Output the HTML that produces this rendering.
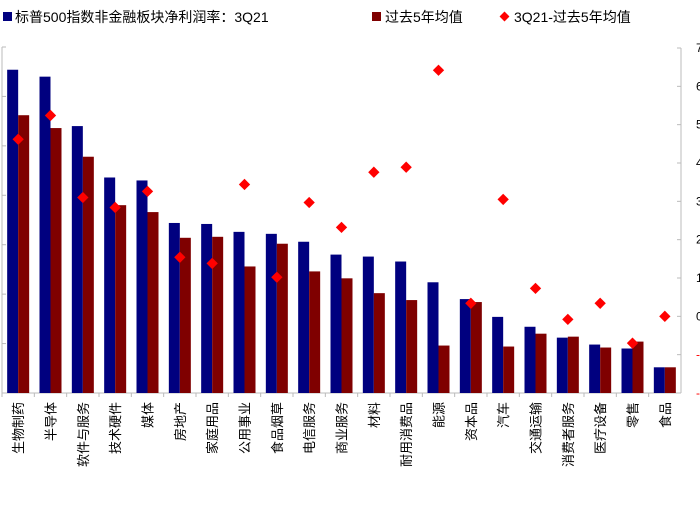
<!DOCTYPE html>
<html><head><meta charset="utf-8"><style>
body{margin:0;background:#fff;width:700px;height:500px;overflow:hidden}
svg{font-family:"Liberation Sans","Noto Sans CJK SC",sans-serif}
</style></head><body>
<svg id="c" width="700" height="500">
<g>
<rect x="3" y="12" width="9" height="9" fill="#00007f"/>
<text x="15" y="22" font-size="14" fill="#000">标普500指数非金融板块净利润率：3Q21</text>
<rect x="372" y="12" width="9" height="9" fill="#7f0000"/>
<text x="385" y="22" font-size="14" fill="#000">过去5年均值</text>
<rect x="501" y="13" width="7" height="7" fill="#ff0000" transform="rotate(45 504.5 16.5)"/>
<text x="514" y="22" font-size="14" fill="#000">3Q21-过去5年均值</text>
</g>
<g id="plot"></g>
</svg>
<script>
const categories=["生物制药","半导体","软件与服务","技术硬件","媒体","房地产","家庭用品","公用事业","食品烟草","电信服务","商业服务","材料","耐用消费品","能源","资本品","汽车","交通运输","消费者服务","医疗设备","零售","食品"];
const current=[32.7,32.0,27.0,21.8,21.5,17.2,17.1,16.3,16.1,15.3,14.0,13.8,13.3,11.2,9.5,7.7,6.7,5.6,4.9,4.5,2.6];
const avg5y=[28.1,26.8,23.9,19.0,18.3,15.7,15.8,12.8,15.1,12.3,11.6,10.1,9.4,4.8,9.2,4.7,6.0,5.7,4.6,5.2,2.6];
const diff=[4.62,5.24,3.10,2.84,3.26,1.54,1.38,3.44,1.02,2.97,2.32,3.76,3.89,6.42,0.34,3.05,0.73,-0.08,0.34,-0.70,0.0];
const rightTicks=[-2,-1,0,1,2,3,4,5,6,7];
const leftTicks=[0,5,10,15,20,25,30,35];

const NS="http://www.w3.org/2000/svg";
const g=document.getElementById('plot');
const X0=2,X1=681,YB=393,YT=47;
const slot=(X1-X0)/categories.length;
const yL=v=>YB-(v/35)*(YB-YT);
const yR=v=>393-(v+2)/9*(393-48);
function el(t,a){const e=document.createElementNS(NS,t);for(const k in a)e.setAttribute(k,a[k]);g.appendChild(e);return e;}

let e=el('line',{x1:X0,y1:YT,x2:X0,y2:YB,stroke:'#bbb'});

leftTicks.forEach(t=>{const l=el('line',{x1:X0,x2:X0+4,y1:yL(t),y2:yL(t),stroke:'#bbb'});
});
e=el('line',{x1:X1,y1:48,x2:X1,y2:YB,stroke:'#bbb'});

rightTicks.forEach(t=>{const l=el('line',{x1:X1-4,x2:X1,y1:yR(t),y2:yR(t),stroke:'#bbb'});

const tx=el('text',{x:X1+15,y:yR(t)+4,'font-size':12,fill:t<0?'#f00':'#000'});tx.textContent=t;
});
e=el('line',{x1:X0,y1:YB,x2:X1,y2:YB,stroke:'#bbb'});

categories.forEach((c,i)=>{
 const cx=X0+slot*(i+0.5);
 const tk=el('line',{x1:X0+slot*i,x2:X0+slot*i,y1:YB,y2:YB+4,stroke:'#bbb'});
 
 const b=el('rect',{x:cx-11,y:yL(current[i]),width:11,height:YB-yL(current[i]),fill:'#00007f'});
 
 const r=el('rect',{x:cx,y:yL(avg5y[i]),width:11,height:YB-yL(avg5y[i]),fill:'#7f0000'});
 
 const dy=yR(diff[i]);
 const d=el('rect',{x:cx-4,y:dy-4,width:8,height:8,fill:'#ff0000',transform:`rotate(45 ${cx} ${dy})`});
 
 const t=el('text',{x:0,y:0,'font-size':13,fill:'#000','text-anchor':'end',transform:`translate(${cx+5} 402) rotate(-90)`});
 t.textContent=c;
 
});
</script>
</body></html>
